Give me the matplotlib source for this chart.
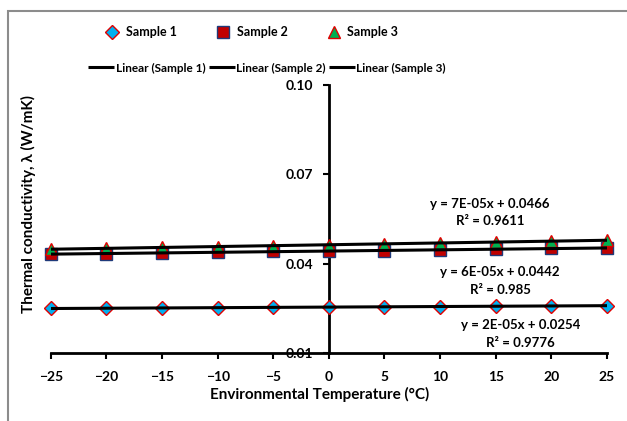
import numpy as np
import matplotlib
matplotlib.use("Agg")
import matplotlib.pyplot as plt
from matplotlib.patches import Rectangle

plt.rcParams['font.family'] = ['Lato', 'DejaVu Sans']

temps = [-25, -20, -15, -10, -5, 0, 5, 10, 15, 20, 25]
sample1 = [0.0250, 0.0250, 0.0251, 0.0252, 0.0253, 0.0255, 0.0255, 0.0256, 0.0257, 0.0258, 0.0259]
sample2 = [0.0432, 0.0434, 0.0436, 0.0438, 0.0441, 0.0443, 0.0444, 0.0446, 0.0448, 0.0451, 0.0453]
sample3 = [0.0449, 0.0452, 0.0455, 0.0457, 0.0460, 0.0463, 0.0466, 0.0469, 0.0472, 0.0476, 0.0480]
series_names = ["Sample 1", "Sample 2", "Sample 3"]
equations = ["y = 2E-05x + 0.0254\nR² = 0.9776",
             "y = 6E-05x + 0.0442\nR² = 0.985",
             "y = 7E-05x + 0.0466\nR² = 0.9611"]
eq_pos = [(17.2, 0.0164), (15.4, 0.0342), (14.5, 0.0572)]
yticks = [0.01, 0.04, 0.07, 0.10]
xticks = [-25, -20, -15, -10, -5, 0, 5, 10, 15, 20, 25]

fig = plt.figure(figsize=(6.27, 4.21), dpi=100)
ax = fig.add_axes([50.7/627, 1-353/421, (607-50.7)/627, (353-85)/421])

styles = [
    dict(marker='D', mfc='#00B0F0', mec='#E00000', ms=7.5, mew=1.0),
    dict(marker='s', mfc='#C00000', mec='#1F3A7A', ms=9, mew=1.0),
    dict(marker='^', mfc='#00B050', mec='#E00000', ms=9, mew=1.0),
]
data = [sample1, sample2, sample3]
x = np.array(temps, dtype=float)
handles_m = []
handles_l = []
for name, ys, st in zip(series_names, data, styles):
    h, = ax.plot(x, ys, linestyle='none', label=name, zorder=3, clip_on=False, **st)
    handles_m.append(h)
for name, ys in zip(series_names, data):
    p = np.polyfit(x, ys, 1)
    xl = np.array([x.min(), x.max()])
    l, = ax.plot(xl, np.polyval(p, xl), color='black', lw=2.2, zorder=4,
                 label=f"Linear ({name})", solid_capstyle='butt')
    handles_l.append(l)

for (ex, ey), eq in zip(eq_pos, equations):
    ax.text(ex, ey, eq, ha='center', va='center', fontsize=9.5, fontweight='bold',
            linespacing=1.55)

ax.set_xlim(-25, 25)
ax.set_ylim(0.01, 0.10)
ax.set_xticks(xticks)
ax.set_yticks(yticks)
ax.set_yticklabels([f"{v:.2f}" for v in yticks])
for s in ['top', 'right']:
    ax.spines[s].set_visible(False)
ax.spines['left'].set_position(('data', 0))
ax.spines['left'].set_linewidth(2)
ax.spines['bottom'].set_linewidth(2)
ax.tick_params(axis='both', direction='out', length=4, width=1.5, labelsize=10)
ax.tick_params(axis='y', pad=7)
ax.tick_params(axis='x', pad=9)
for lbl in ax.get_xticklabels() + ax.get_yticklabels():
    lbl.set_fontweight('bold')

fig.text(320/627, 1-394/421, "Environmental Temperature (°C)", ha='center', va='center',
         fontsize=11, fontweight='bold')
fig.text(28/627, 1-204/421, "Thermal conductivity, λ (W/mK)", ha='center', va='center',
         rotation=90, fontsize=11, fontweight='bold')

leg1 = fig.legend(handles=handles_m, ncol=3, loc='center', bbox_to_anchor=(252/627, 1-32/421),
                  frameon=False, handlelength=1.0, columnspacing=3.2,
                  handletextpad=0.6, prop=dict(weight='bold', size=9))
leg2 = fig.legend(handles=handles_l, ncol=3, loc='center', bbox_to_anchor=(267/627, 1-68/421),
                  frameon=False, handlelength=2.2, columnspacing=0.3,
                  handletextpad=0.1, prop=dict(weight='bold', size=8.5))

fig.add_artist(Rectangle((8/627, -0.1), 1.2, 1 - 11/421 + 0.1, transform=fig.transFigure,
                         fill=False, edgecolor='#8c8c8c', lw=1.5))

fig.savefig("out.png", dpi=100)
